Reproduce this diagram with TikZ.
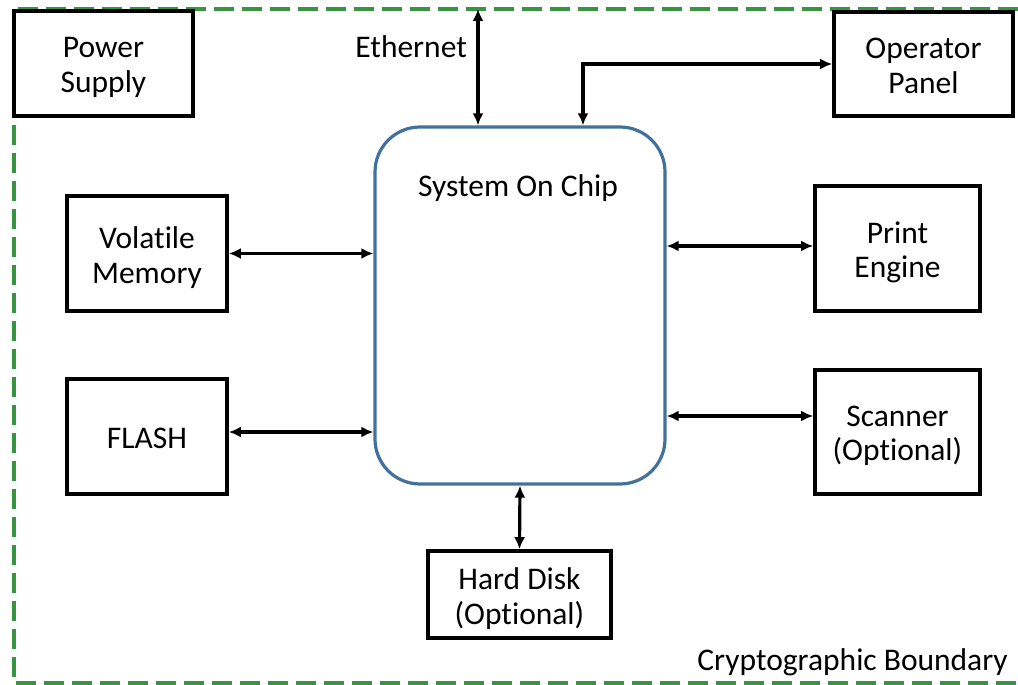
\documentclass[tikz,border=0pt]{standalone}
\usepackage{fontspec}
\setmainfont{Carlito}[Ligatures={NoCommon,NoDiscretionary}]
\usetikzlibrary{arrows.meta}
\definecolor{bndgreen}{RGB}{57,148,66}
\definecolor{socblue}{RGB}{65,113,156}
\tikzset{
  lbl/.style={inner sep=0pt, align=center, font=\fontsize{31.5}{34.5}\selectfont},
  blk/.style={draw=black, line width=3.6pt, fill=white, inner sep=0pt},
  txt/.style={label={[lbl, yshift=-4pt]center:{#1}}},
  soc/.style={draw=socblue, line width=3.2pt, rounded corners=45pt, inner sep=0pt},
  bi/.style={line width=3.2pt, {Latex[length=12pt,width=11pt]}-{Latex[length=12pt,width=11pt]}},
  boundary/.style={draw=bndgreen, line width=3.6pt, dash pattern=on 20pt off 8pt}
}
\begin{document}
\begin{tikzpicture}[x=1pt, y=-1pt]
\useasboundingbox (0,0) rectangle (1018,685);

% cryptographic boundary (open to the right)
\draw[boundary] (1018,9) -- (14,9) -- (14,683) -- (1018,683);

% blocks
\node[blk, minimum width=179pt, minimum height=105pt, txt={Power\\Supply}] (ps) at (103.5,63.5) {};
\node[blk, minimum width=179pt, minimum height=104pt, label={[lbl, yshift=-2pt]center:{Operator\\Panel}}] (op) at (923.5,64) {};
\node[blk, minimum width=160pt, minimum height=115pt, txt={Volatile\\Memory}] (vm) at (147,253.5) {};
\node[blk, minimum width=160pt, minimum height=115pt, label={[lbl, yshift=-2pt]center:FLASH}] (fl) at (147,436.5) {};
\node[blk, minimum width=165pt, minimum height=125pt, txt={Print\\Engine}] (pe) at (897.5,248.5) {};
\node[blk, minimum width=165pt, minimum height=124pt, txt={Scanner\\(Optional)}] (sc) at (897.5,432) {};
\node[blk, minimum width=183pt, minimum height=87pt, txt={Hard Disk\\(Optional)}] (hd) at (519.5,594.5) {};

% system on chip
\node[soc, minimum width=290pt, minimum height=357pt] (soc) at (520,305.5) {};
\node[lbl] (socl) at (518,188) {System On Chip};

% labels
\node[lbl, anchor=east] (ethl) at (467,47) {Ethernet};
\node[lbl, anchor=east] (cbl) at (1008,662) {Cryptographic Boundary};

% connections
\coordinate (eth) at (478,9);
\draw[bi] (eth) -- (eth |- soc.north);
\draw[bi] (op.west) -| ([xshift=63pt]soc.north);
\draw[bi] (vm.east) -- (vm.east -| soc.west);
\draw[bi] ([yshift=4.5pt]fl.east) -- ([yshift=4.5pt]fl.east -| soc.west);
\draw[bi] ([yshift=2.5pt]pe.west) -- ([yshift=2.5pt]pe.west -| soc.east);
\draw[bi] ([yshift=16pt]sc.west) -- ([yshift=16pt]sc.west -| soc.east);
\draw[bi] (soc.south) -- (hd.north);
\end{tikzpicture}
\end{document}
